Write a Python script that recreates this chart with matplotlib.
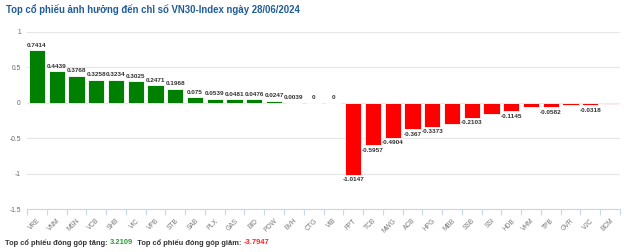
import numpy as np
import matplotlib
matplotlib.use("Agg")
import matplotlib.pyplot as plt

plt.rcParams['font.family'] = ['Liberation Sans', 'DejaVu Sans']

tickers = ['VRE', 'VNM', 'MSN', 'VCB', 'SHB', 'VIC', 'VPB', 'STB', 'SAB', 'PLX',
           'GAS', 'BID', 'POW', 'BVH', 'CTG', 'VIB', 'FPT', 'TCB', 'MWG', 'ACB',
           'HPG', 'MBB', 'SSB', 'SSI', 'HDB', 'VHM', 'TPB', 'GVR', 'VJC', 'BCM']
impact = [0.7414, 0.4439, 0.3768, 0.3258, 0.3234, 0.3025, 0.2471, 0.1968, 0.075, 0.0539,
          0.0481, 0.0476, 0.0247, 0.0039, 0, 0, -1.0147, -0.5957, -0.4904, -0.367,
          -0.3373, -0.2985, -0.2103, -0.163, -0.1145, -0.0655, -0.0582, -0.0378, -0.0318, -0.01]
# labels hidden on the chart where they would overlap
shown = [True] * 21 + [False, True, False, True, False, True, False, True, False]
total_up = '3.2109'
total_down = '-3.7947'
title = 'Top cổ phiếu ảnh hưởng đến chỉ số VN30-Index ngày 28/06/2024'

fig = plt.figure(figsize=(6.24, 2.52), dpi=100)
ax = fig.add_axes([27 / 624, 1 - 209 / 252, 593 / 624, 177 / 252])

x = np.arange(len(tickers))
colors = ['#008000' if v >= 0 else '#ff0000' for v in impact]
ax.bar(x, impact, width=0.82, color=colors, edgecolor='white', linewidth=0.6, zorder=3)

for xi, v, s in zip(x, impact, shown):
    if not s:
        continue
    txt = f'{v:g}' if v != 0 else '0'
    if v >= 0:
        ax.annotate(txt, (xi, v), xytext=(0, 2), textcoords='offset points',
                    ha='center', va='bottom', fontsize=4.6, fontweight='bold', color='#333333')
    else:
        ax.annotate(txt, (xi, v), xytext=(0, -2), textcoords='offset points',
                    ha='center', va='top', fontsize=4.6, fontweight='bold', color='#333333')

ax.set_xlim(-0.5, len(tickers) - 0.5)
ax.set_ylim(-1.5, 1)
ax.set_yticks([-1.5, -1, -0.5, 0, 0.5, 1])
ax.set_yticklabels(['-1.5', '-1', '-0.5', '0', '0.5', '1'])
ax.yaxis.grid(True, color='#e6e6e6', linewidth=0.8, zorder=0)
ax.tick_params(axis='y', length=0, labelsize=4.8, labelcolor='#666666', pad=4.5)

ax.set_xticks(x)
ax.set_xticklabels(tickers, rotation=45, ha='right', va='top', rotation_mode='anchor')
ax.set_xticks(np.arange(len(tickers) + 1) - 0.5, minor=True)
ax.tick_params(axis='x', which='major', length=0, labelsize=4.8, labelcolor='#777777', pad=6)
ax.tick_params(axis='x', which='minor', length=4, width=0.8, color='#ccd6eb')

for side in ['top', 'right', 'left']:
    ax.spines[side].set_visible(False)
ax.spines['bottom'].set_color('#ccd6eb')
ax.spines['bottom'].set_linewidth(0.8)

fig.text(6 / 624, 1 - 10 / 252, title, fontsize=6.9, fontweight='bold',
         color='#1f5c99', ha='left', va='center')

# footer, drawn piece by piece
fig.canvas.draw()
renderer = fig.canvas.get_renderer()
parts = [('Top cổ phiếu đóng góp tăng: ', '#333333'), (total_up, '#2e9a2e'),
         ('  Top cổ phiếu đóng góp giảm: ', '#333333'), (total_down, '#ff2020')]
xpos = 5 / 624
for s, c in parts:
    t = fig.text(xpos, 1 - 243 / 252, s, fontsize=5.4, fontweight='bold', color=c,
                 ha='left', va='center')
    bb = t.get_window_extent(renderer)
    xpos += bb.width / fig.bbox.width

fig.savefig('out.png', dpi=100)
